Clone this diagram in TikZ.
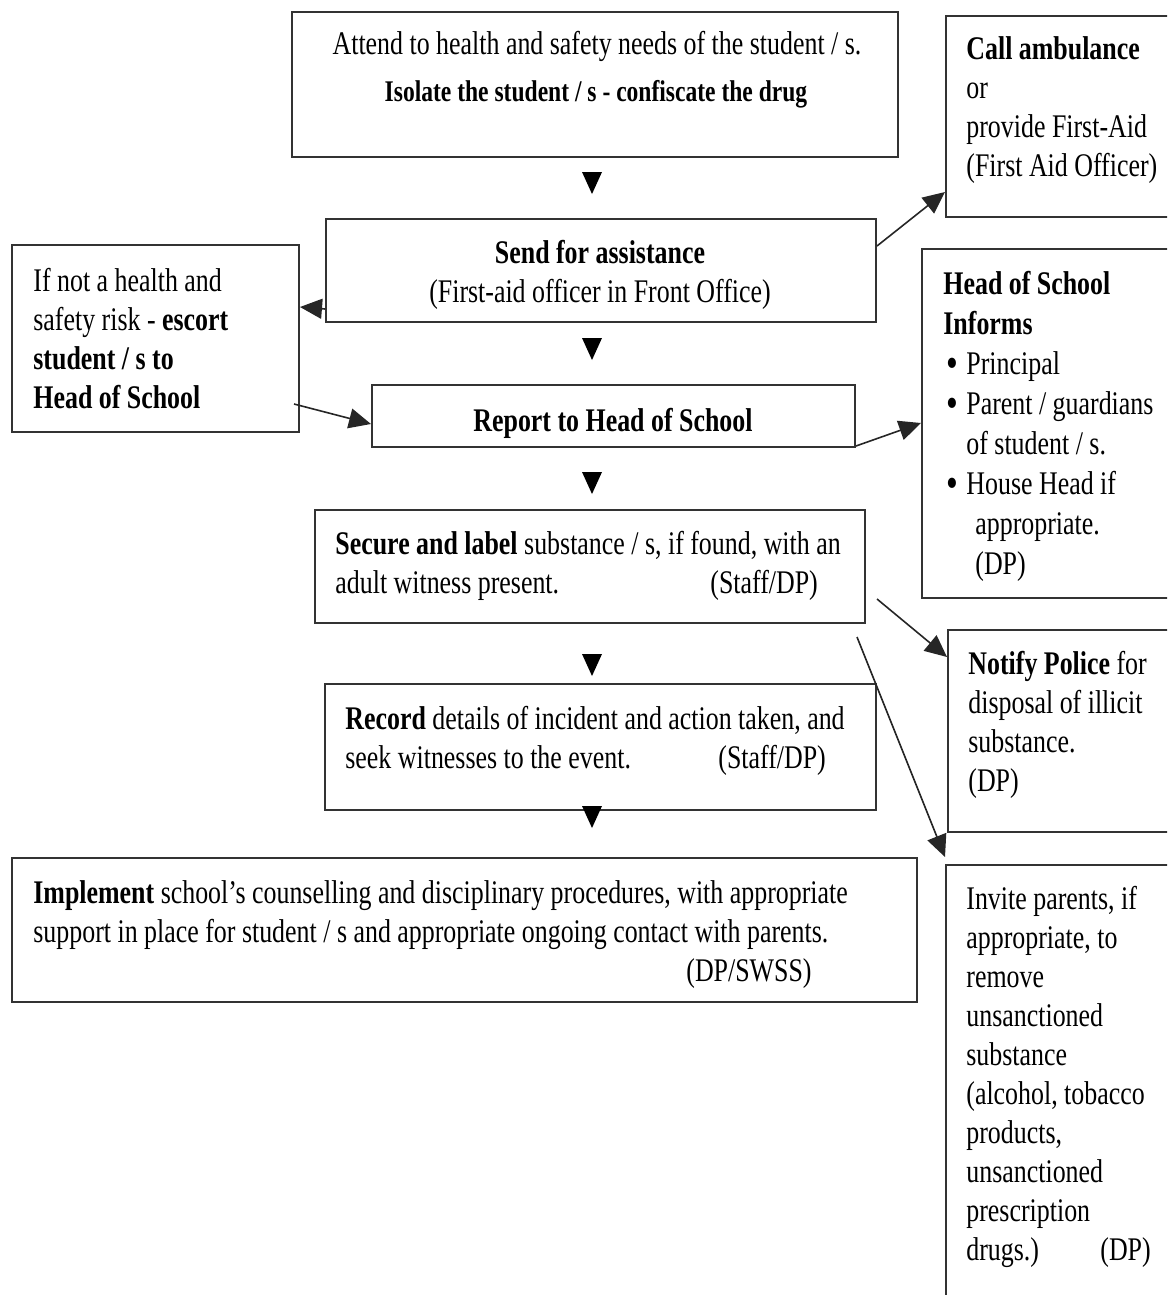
\documentclass[tikz,border=0pt]{standalone}
\usepackage{fontspec}
\setmainfont{Liberation Serif}[FakeStretch=0.785]
\usetikzlibrary{arrows.meta,fit,calc}
\newcommand{\mybul}{\hspace*{1.5pt}\makebox[10pt][l]{\raisebox{-1.8pt}{\scalebox{1.3}{•}}}}
\begin{document}
\begin{tikzpicture}[x=0.5pt,y=-0.5pt,
  box/.style={draw=black!80, line width=1pt, inner sep=0pt},
  txt/.style={inner sep=0pt, anchor=base west, align=flush left, text width=460pt,
    font=\fontsize{16.5}{19.5}\selectfont},
  ctr/.style={inner sep=0pt, anchor=base, font=\fontsize{16.5}{19.5}\selectfont},
  arr/.style={draw=black!85, line width=0.8pt, -{Triangle[length=11pt,width=10pt]}},
  tri/.style={fill=black}]
\useasboundingbox (0,0) rectangle (1167,1295);
\clip (0,0) rectangle (1167,1295);

% boxes
\node[box, fit={(292,12)(898,157)}] (top) {};
\node[box, fit={(946,16)(1190,217)}] (call) {};
\node[box, fit={(326,219)(876,322)}] (send) {};
\node[box, fit={(12,245)(299,432)}] (left) {};
\node[box, fit={(372,385)(855,447)}] (report) {};
\node[box, fit={(922,249)(1190,598)}] (head) {};
\node[box, fit={(315,510)(865,623)}] (secure) {};
\node[box, fit={(948,630)(1190,832)}] (notify) {};
\node[box, fit={(325,684)(876,810)}] (record) {};
\node[box, fit={(12,858)(917,1002)}] (impl) {};
\node[box, fit={(946,865)(1190,1320)}] (invite) {};

% texts
\node[ctr] (ttop1) at (597,55) {Attend to health and safety needs of the student / s.};
\node[ctr, font=\fontsize{15}{18}\selectfont\bfseries] (ttop2) at (596,102) {Isolate the student / s - confiscate the drug};

\node[txt] (tcall) at (966,60) {\textbf{Call ambulance}\\or\\provide First-Aid\\(First Aid Officer)};

\node[ctr] (tsend1) at (600,263) {\textbf{Send for assistance}};
\node[ctr] (tsend2) at (600,302) {(First-aid officer in Front Office)};

\node[txt] (tleft) at (33,291) {If not a health and\\safety risk - \textbf{escort}\\\textbf{student / s to}\\\textbf{Head of School}};

\node[ctr] (treport) at (613,431) {\textbf{Report to Head of School}};

\node[txt, font=\fontsize{16.5}{20}\selectfont] (thead) at (943,294) {\textbf{Head of School}\\\textbf{Informs}\\
\mybul Principal\\
\mybul Parent / guardians\\
\hspace*{11.5pt}of student / s.\\
\mybul House Head if\\
\hspace*{16pt}appropriate.\\
\hspace*{16pt}(DP)};

\node[txt] (tsecure) at (335,554) {\textbf{Secure and label} substance / s, if found, with an\\\makebox[187.5pt][l]{adult witness present.}(Staff/DP)};

\node[txt] (tnotify) at (968,674) {\textbf{Notify Police} for\\disposal of illicit\\substance.\\(DP)};

\node[txt] (trecord) at (345,729) {\textbf{Record} details of incident and action taken, and\\\makebox[186.5pt][l]{seek witnesses to the event.}(Staff/DP)};

\node[txt] (timpl) at (33,903) {\textbf{Implement} school’s counselling and disciplinary procedures, with appropriate\\support in place for student / s and appropriate ongoing contact with parents.\\\hspace*{326.5pt}(DP/SWSS)};

\node[txt] (tinvite) at (966,909) {Invite parents, if\\appropriate, to\\remove\\unsanctioned\\substance\\(alcohol, tobacco\\products,\\unsanctioned\\prescription\\\makebox[67pt][l]{drugs.)}(DP)};

% down triangles between main boxes
\foreach \n/\y in {t1/172, t2/338, t3/472, t4/654, t5/806}{
  \coordinate (\n) at (592,\y);
  \fill[tri] ($(\n)+(-10,0)$) -- ($(\n)+(10,0)$) -- ($(\n)+(0,22)$) -- cycle;
}

% connectors
\draw[arr] ($(send.north east)+(0,28)$) -- ($(call.north west)+(0,177)$);
\draw[arr] ($(send.south west)+(0,-14)$) -- ($(left.north east)+(0,63)$);
\draw[arr] ($(left.north east)+(-6,160)$) -- ($(report.north west)+(0,40)$);
\draw[arr] ($(report.south east)+(0,-2)$) -- ($(head.north west)+(0,175)$);
\draw[arr] ($(secure.north east)+(11,90)$) -- ($(notify.north west)+(0,28)$);
\draw[arr] ($(secure.south east)+(-9,13)$) -- ($(invite.north west)+(0,-7)$);
\end{tikzpicture}
\end{document}
